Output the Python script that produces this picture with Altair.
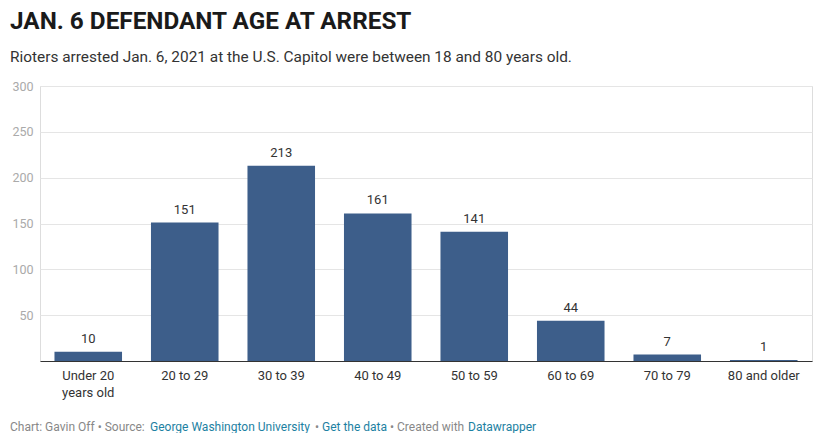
import altair as alt
import pandas as pd

categories = ["Under 20 years old", "20 to 29", "30 to 39", "40 to 49",
              "50 to 59", "60 to 69", "70 to 79", "80 and older"]
counts = [10, 151, 213, 161, 141, 44, 7, 1]
y_ticks = [50, 100, 150, 200, 250, 300]

title_text = "JAN. 6 DEFENDANT AGE AT ARREST"
subtitle_text = "Rioters arrested Jan. 6, 2021 at the U.S. Capitol were between 18 and 80 years old."
footer_parts = [
    ("Chart: Gavin Off • Source: ", "#888888", -30),
    ("George Washington University", "#1d81a2", 110),
    ("•", "#888888", 275),
    ("Get the data", "#1d81a2", 282),
    ("• Created with", "#888888", 350),
    ("Datawrapper", "#1d81a2", 428),
]

df = pd.DataFrame({"age": categories, "count": counts})

FONT = "Roboto"
BAR = "#3d5e8a"

x_enc = alt.X("age:N", sort=categories, title=None,
              scale=alt.Scale(paddingInner=0.3, paddingOuter=0.15),
              axis=alt.Axis(labelAngle=0, ticks=False, domainColor="#333333",
                            labelColor="#333333", labelFontSize=13, labelPadding=8,
                            labelLineHeight=17,
                            labelExpr="datum.label == 'Under 20 years old' ? ['Under 20', 'years old'] : datum.label"))
y_enc = alt.Y("count:Q", title=None, scale=alt.Scale(domain=[0, 300], nice=False),
              axis=alt.Axis(values=y_ticks, domain=False, ticks=False, gridColor="#e5e5e5",
                            labelColor="#aaaaaa", labelFontSize=12.5, labelPadding=7))

base = alt.Chart(df)
bars = base.mark_bar(color=BAR).encode(x=x_enc, y=y_enc)
labels = base.mark_text(color="#333333", fontSize=13, dy=-9, baseline="alphabetic",
                        font=FONT).encode(x=alt.X("age:N", sort=categories),
                                          y="count:Q", text="count:Q")

one = alt.Data(values=[{}])

def txt(text, x, y, size, color, weight="normal"):
    return alt.Chart(one).mark_text(text=text, align="left", baseline="alphabetic",
                                    fontSize=size, color=color, fontWeight=weight,
                                    font=FONT).encode(x=alt.value(x), y=alt.value(y))

layers = [bars, labels,
          txt(title_text, -30, -57, 24.3, "#1a1a1a", "bold"),
          txt(subtitle_text, -30, -24, 15.4, "#333333")]
for t, c, xp in footer_parts:
    layers.append(txt(t, xp, 345, 12, c))

chart = alt.layer(*layers).properties(
    width=772, height=275,
    autosize=alt.AutoSizeParams(type="none"),
    padding={"left": 32, "top": 78, "right": 8, "bottom": 72},
).configure_view(stroke=None).configure(font=FONT)

chart.save("out.html", embed_options={"renderer": "svg", "actions": False})
